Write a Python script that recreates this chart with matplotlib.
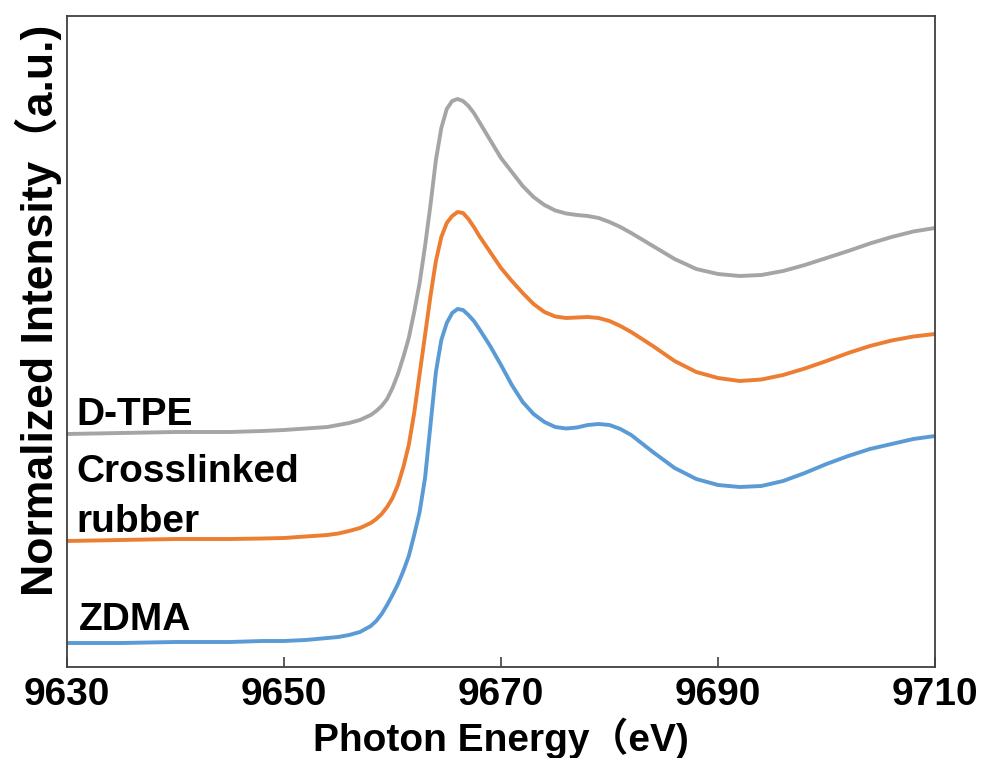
import matplotlib
matplotlib.use("Agg")
import matplotlib.pyplot as plt

# Photon energy grid (eV)
energy = [9630, 9635, 9640, 9645, 9648, 9650, 9652, 9654, 9655, 9656,
          9657, 9658, 9658.5, 9659, 9659.5, 9660, 9660.5, 9661, 9661.5, 9662,
          9662.5, 9663, 9663.5, 9664, 9664.5, 9665, 9665.5, 9666, 9666.5, 9667,
          9667.5, 9668, 9669, 9670, 9671, 9672, 9673, 9674, 9675, 9676,
          9677, 9678, 9679, 9680, 9681, 9682, 9684, 9686, 9688, 9690,
          9692, 9694, 9696, 9698, 9700, 9702, 9704, 9706, 9708, 9710]

# Stacked (offset) normalized intensities, a.u.
zdma = [0.24, 0.24, 0.25, 0.25, 0.26, 0.26, 0.27, 0.29, 0.30, 0.32,
        0.35, 0.41, 0.46, 0.53, 0.62, 0.72, 0.83, 0.96, 1.11, 1.32,
        1.55, 1.89, 2.42, 2.95, 3.27, 3.44, 3.54, 3.58, 3.57, 3.52,
        3.46, 3.38, 3.21, 3.02, 2.82, 2.65, 2.53, 2.45, 2.40, 2.385,
        2.395, 2.42, 2.43, 2.42, 2.38, 2.32, 2.15, 1.99, 1.88, 1.82,
        1.80, 1.81, 1.86, 1.94, 2.03, 2.11, 2.18, 2.23, 2.28, 2.31]

crosslinked = [1.26, 1.27, 1.28, 1.28, 1.285, 1.29, 1.305, 1.32, 1.335, 1.36,
               1.39, 1.44, 1.48, 1.53, 1.60, 1.69, 1.82, 2.00, 2.22, 2.54,
               2.93, 3.32, 3.71, 4.06, 4.30, 4.44, 4.51, 4.55, 4.54, 4.48,
               4.40, 4.31, 4.15, 3.99, 3.86, 3.74, 3.63, 3.55, 3.505, 3.49,
               3.495, 3.50, 3.49, 3.46, 3.41, 3.35, 3.21, 3.06, 2.95, 2.89,
               2.86, 2.875, 2.92, 2.985, 3.06, 3.14, 3.21, 3.265, 3.305, 3.33]

dtpe = [2.33, 2.34, 2.35, 2.35, 2.36, 2.37, 2.385, 2.40, 2.42, 2.44,
        2.47, 2.52, 2.56, 2.61, 2.68, 2.79, 2.93, 3.10, 3.29, 3.55,
        3.84, 4.21, 4.62, 5.07, 5.39, 5.58, 5.66, 5.68, 5.66, 5.61,
        5.54, 5.45, 5.27, 5.09, 4.95, 4.81, 4.70, 4.62, 4.565, 4.535,
        4.52, 4.51, 4.49, 4.45, 4.40, 4.34, 4.21, 4.08, 3.98, 3.93,
        3.91, 3.92, 3.96, 4.02, 4.09, 4.16, 4.235, 4.30, 4.355, 4.39]

series_names = ["ZDMA", "Crosslinked\nrubber", "D-TPE"]
series_values = [zdma, crosslinked, dtpe]
series_colors = ["#5B9BD5", "#ED7D31", "#A5A5A5"]

x_ticks = [9630, 9650, 9670, 9690, 9710]
x_label = "Photon Energy（eV)"
y_label = "Normalized Intensity（a.u.)"

FONT = ["Liberation Sans", "Noto Sans CJK SC", "DejaVu Sans"]
plt.rcParams["font.family"] = FONT

fig = plt.figure(figsize=(9.84, 7.58), dpi=100)
ax = fig.add_axes([67 / 984, 1 - 667 / 758, 868 / 984, 651 / 758])

for vals, col in zip(series_values, series_colors):
    ax.plot(energy, vals, color=col, lw=2.8, solid_joinstyle="round",
            solid_capstyle="butt")

ax.set_xlim(9630, 9710)
ax.set_ylim(0, 6.51)
ax.set_xticks(x_ticks)
ax.set_yticks([])
ax.tick_params(axis="x", direction="in", length=7.5, width=1.2, color="#404040",
               pad=7, labelsize=28)
for lab in ax.get_xticklabels():
    lab.set_fontweight("bold")

for sp in ax.spines.values():
    sp.set_color("#404040")
    sp.set_linewidth(1.3)

ax.set_xlabel(x_label, fontsize=28, fontweight="bold")
ax.xaxis.set_label_coords(0.5, -0.078)
ax.set_ylabel(y_label, fontsize=32, fontweight="bold")
ax.yaxis.set_label_coords(-0.006, 0.548)

# curve labels (baseline positions in data units)
label_pos = {"D-TPE": [(9630.9, 2.42)],
             "Crosslinked\nrubber": [(9630.9, 1.85), (9630.9, 1.35)],
             "ZDMA": [(9631.1, 0.37)]}
for name in series_names:
    for line, (lx, ly) in zip(name.split("\n"), label_pos[name]):
        ax.text(lx, ly, line, fontsize=28, fontweight="bold", ha="left",
                va="baseline", color="black")

fig.savefig("out.png", dpi=100)
